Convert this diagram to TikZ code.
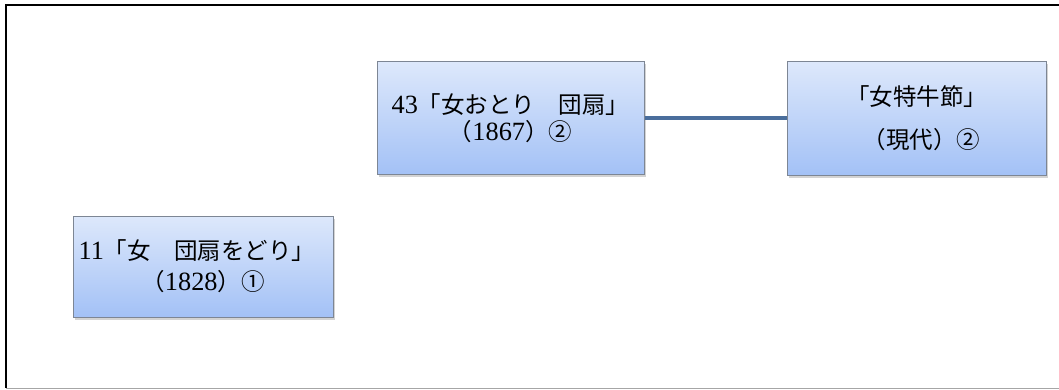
\documentclass[tikz,border=0pt]{standalone}
\usepackage{fontspec}
\setmainfont{Liberation Serif}[Scale=1.12]
\newfontfamily\jp{Noto Sans CJK JP}
\usetikzlibrary{shadows}
\tikzset{
  box/.style={draw=boxborder, line width=1pt, top color=boxtop, bottom color=boxbot,
    drop shadow={shadow xshift=1.5pt, shadow yshift=-2.5pt, opacity=0.35},
    align=center, inner sep=0pt, font=\fontsize{23.5}{27}\selectfont},
  conn/.style={draw=connblue, line width=4pt},
}
\definecolor{boxtop}{HTML}{DDE8FB}
\definecolor{boxbot}{HTML}{A3C1F6}
\definecolor{boxborder}{HTML}{7D8694}
\definecolor{connblue}{HTML}{4A6E9C}
\begin{document}
\begin{tikzpicture}[x=1pt,y=-1pt]
\useasboundingbox (0,0) rectangle (1059,390);
\coordinate (tl) at (6,5);
\coordinate (tr) at (1059,5);
\coordinate (bl) at (6,388);
\coordinate (br) at (1059,388);
\draw[line width=2pt, black] (tr) -- (tl) -- (bl);
\draw[line width=1pt, gray!70] (bl) -- (br);

\node[box, minimum width=267pt, minimum height=113pt] (b1) at (510.5,118.5)
  {43{\jp「女おとり　団扇」}\\[0pt]{\jp（}1867{\jp）②}};
\node[box, minimum width=259pt, minimum height=114pt] (b2) at (916.5,118.5)
  {{\jp「女特牛節」}\\[16pt]\hspace*{10pt}{\jp（現代）②}};
\node[box, minimum width=260pt, minimum height=101pt] (b3) at (203,266.5)
  {\hspace*{-12pt}11{\jp「女　団扇をどり」}\\[4pt]{\jp（}1828{\jp）①}};
\draw[conn] (b1) -- (b2);
\end{tikzpicture}
\end{document}
